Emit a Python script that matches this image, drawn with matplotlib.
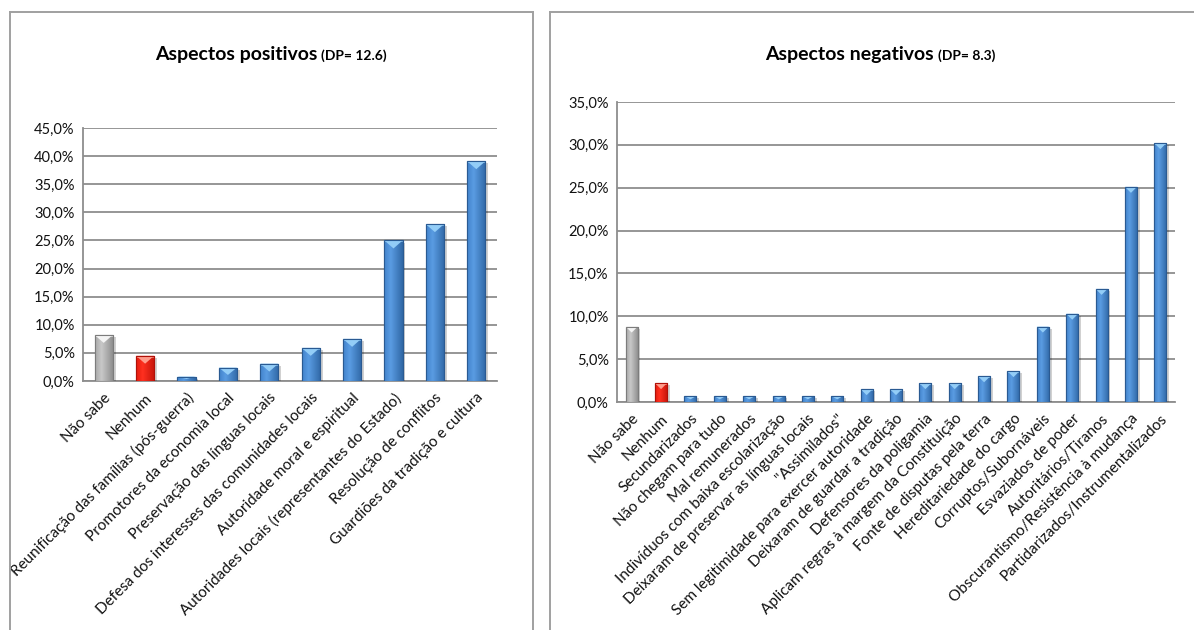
import numpy as np
import matplotlib
matplotlib.use("Agg")
import matplotlib.pyplot as plt
from matplotlib.lines import Line2D
from matplotlib.ticker import FuncFormatter, MultipleLocator
from matplotlib.colors import LinearSegmentedColormap
from matplotlib import patheffects as pe

plt.rcParams['font.family'] = ['Lato', 'DejaVu Sans']

# ---- data -------------------------------------------------------------
pos_labels = [
    "Não sabe", "Nenhum", "Reunificação das famílias (pós-guerra)",
    "Promotores da economia local", "Preservação das línguas locais",
    "Defesa dos interesses das comunidades locais",
    "Autoridade moral e espiritual",
    "Autoridades locais (representantes do Estado)",
    "Resolução de conflitos", "Guardiões da tradição e cultura",
]
pos_values = [8.2, 4.5, 0.8, 2.4, 3.1, 5.9, 7.5, 25.0, 27.9, 39.1]

neg_labels = [
    "Não sabe", "Nenhum", "Secundarizados", "Não chegam para tudo",
    "Mal remunerados", "Indivíduos com baixa escolarização",
    "Deixaram de preservar as línguas locais", "\"Assimilados\"",
    "Sem legitimidade para exercer autoridade",
    "Deixaram de guardar a tradição", "Defensores da poligamia",
    "Aplicam regras à margem da Constituição",
    "Fonte de disputas pela terra", "Hereditariedade do cargo",
    "Corruptos/Subornáveis", "Esvaziados de poder", "Autoritários/Tiranos",
    "Obscurantismo/Resistência à mudança",
    "Partidarizados/Instrumentalizados",
]
neg_values = [8.8, 2.2, 0.7, 0.7, 0.7, 0.7, 0.7, 0.7, 1.5, 1.5, 2.2, 2.2,
              3.0, 3.6, 8.8, 10.3, 13.2, 25.1, 30.2]

# ---- styling ----------------------------------------------------------
W, H = 1194, 630
fig = plt.figure(figsize=(W / 100, H / 100), dpi=100)
GRID = "#8e8e8e"
FRAME = "#a0a0a0"

# palettes: (left, centre, right, edge, chevron)
BLUE = ("#4283cc", "#5a9ce2", "#3068a6", "#2a5a92", "#93cdf7")
GRAY = ("#a8a8a8", "#c8c8c8", "#8a8a8a", "#7c7c7c", "#f4f4f4")
RED = ("#e41c0e", "#ff3020", "#c4140a", "#b01008", "#ff9c8c")


def make_cmap(pal):
    return LinearSegmentedColormap.from_list(
        "g", [(0, pal[0]), (0.35, pal[1]), (1, pal[2])])


def px(x, y):
    """pixel position (from top-left) to figure fraction"""
    return x / W, 1 - y / H


def frame(x0, x1):
    segs = [([x0, x0], [12, H]), ([x0, x1], [12, 12]), ([x1, x1], [12, H])]
    for xs, ys in segs:
        ln = Line2D([v / W for v in xs], [1 - v / H for v in ys],
                    transform=fig.transFigure, color=FRAME, linewidth=1.4)
        fig.add_artist(ln)


def pct(v, _):
    return f"{v:.1f}".replace(".", ",") + "%"


def draw_chart(rect, labels, values, ymax, width, chev_px):
    l, t, r, b = rect
    ax = fig.add_axes([l / W, 1 - b / H, (r - l) / W, (b - t) / H])
    n = len(values)
    x = np.arange(n)
    ax.yaxis.set_major_locator(MultipleLocator(5))
    ax.yaxis.set_major_formatter(FuncFormatter(pct))
    ax.grid(axis="y", color=GRID, lw=1.3, zorder=0)
    ax.set_axisbelow(True)
    for s in ("top", "right"):
        ax.spines[s].set_visible(False)
    for s in ("left", "bottom"):
        ax.spines[s].set_color(GRID)
        ax.spines[s].set_linewidth(1.3)
    ax.tick_params(length=0, labelsize=10.5, colors="#111111", pad=6)
    ax.tick_params(axis="x", pad=7)
    ax.set_xticks(x)
    ax.set_xticklabels(labels, rotation=45, ha="right", va="top",
                       rotation_mode="anchor", fontsize=11)

    ppd = (b - t) / ymax  # pixels per data unit
    chev = chev_px / ppd
    bars = ax.bar(x, values, width=width, zorder=3, linewidth=0.8)
    for i, (bar, v) in enumerate(zip(bars, values)):
        pal = GRAY if i == 0 else RED if i == 1 else BLUE
        bar.set_facecolor(pal[1])
        bar.set_edgecolor(pal[3])
        bar.set_path_effects([pe.SimplePatchShadow(offset=(2, -1.5),
                                                   shadow_rgbFace="#000000",
                                                   alpha=0.18),
                              pe.Normal()])
        x0 = bar.get_x()
        grad = np.linspace(0, 1, 64).reshape(1, -1)
        im = ax.imshow(grad, cmap=make_cmap(pal), aspect="auto",
                       extent=(x0, x0 + width, 0, v), zorder=3.5,
                       origin="lower")
        im.set_clip_path(bar)
        # light chevron at the top of each bar
        d = min(chev, v * 0.55)
        ax.fill([x0, x0 + width, x0 + width / 2],
                [v, v, v - d], color=pal[4], zorder=4, lw=0)
        ax.fill([x0, x0 + width, x0 + width, x0],
                [v, v, v - d * 0.25, v - d * 0.25],
                color=pal[4], zorder=4, lw=0, alpha=0.6)
        ax.bar(x0 + width / 2, v, width=width, facecolor="none",
               edgecolor=pal[3], linewidth=0.8, zorder=4.5)
    ax.set_xlim(-0.5, n - 0.5)
    ax.set_ylim(0, ymax)
    return ax


frame(10, 533)
frame(550, 1250)

draw_chart((83, 128, 497, 381), pos_labels, pos_values, 45, 0.44, 8)
draw_chart((617, 102, 1175, 402), neg_labels, neg_values, 35, 0.41, 6)


def title(cx, cy, main, sub):
    t1 = fig.text(0, 0, main, fontsize=14, fontweight="bold",
                  ha="left", va="baseline")
    t2 = fig.text(0, 0, sub, fontsize=10, fontweight="bold",
                  ha="left", va="baseline")
    fig.canvas.draw()
    r = fig.canvas.get_renderer()
    w1 = t1.get_window_extent(r).width
    w2 = t2.get_window_extent(r).width
    gap = 4
    start = cx - (w1 + gap + w2) / 2
    t1.set_position(px(start, cy))
    t2.set_position(px(start + w1 + gap, cy))


title(271, 60, "Aspectos positivos", "(DP= 12.6)")
title(880, 60, "Aspectos negativos", "(DP= 8.3)")

fig.savefig("out.png", dpi=100)
